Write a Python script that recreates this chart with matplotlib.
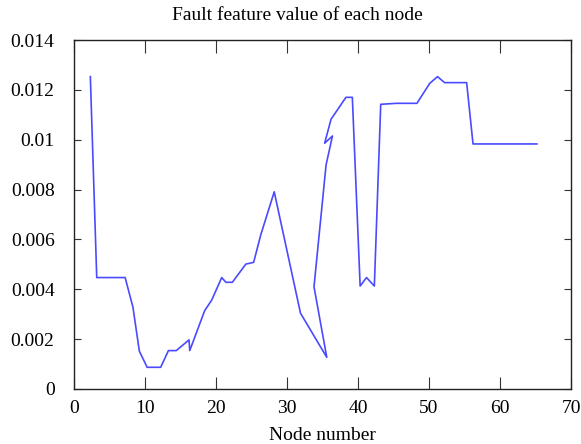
import matplotlib.pyplot as plt

plt.rcParams['font.family'] = ['Liberation Serif', 'DejaVu Serif']

# node number vs fault feature value
node = [2.3, 3.2, 7.2, 8.3, 9.2, 10.3, 12.2, 13.3, 14.4, 16.2, 16.3, 18.4, 19.4,
        20.8, 21.4, 22.3, 24.2, 25.3, 26.3, 28.2, 31.9, 35.6, 33.8, 35.5, 36.4,
        35.3, 36.2, 38.3, 39.2, 40.3, 41.2, 42.3, 43.2, 45.4, 48.3, 50.1, 51.2,
        52.2, 55.3, 56.2, 65.2]
feature = [0.01253, 0.00447, 0.00447, 0.00328, 0.00152, 0.00087, 0.00087,
           0.00154, 0.00154, 0.00197, 0.00154, 0.00314, 0.00357, 0.00447,
           0.00428, 0.00428, 0.00501, 0.00508, 0.00618, 0.00791, 0.00304,
           0.00127, 0.00410, 0.00899, 0.01015, 0.00986, 0.01082, 0.01170,
           0.01170, 0.00413, 0.00447, 0.00413, 0.01142, 0.01146, 0.01146,
           0.01226, 0.01253, 0.01229, 0.01229, 0.00983, 0.00983]

yticks = [0, 0.002, 0.004, 0.006, 0.008, 0.01, 0.012, 0.014]
ytick_labels = ['0', '0.002', '0.004', '0.006', '0.008', '0.01', '0.012', '0.014']
xticks = [0, 10, 20, 30, 40, 50, 60, 70]

fig = plt.figure(figsize=(5.81, 4.44), dpi=100)
ax = fig.add_axes([0.1274, 0.1239, 0.8554, 0.786])

ax.plot(node, feature, color='#4a4aff', lw=1.2)

ax.set_xlim(0, 70)
ax.set_ylim(0, 0.014)
ax.set_xticks(xticks)
ax.set_yticks(yticks)
ax.set_yticklabels(ytick_labels)

ax.tick_params(axis='both', direction='in', top=True, right=True,
               labelsize=14, colors='#333333', labelcolor='black')
ax.tick_params(axis='x', length=9, pad=8)
ax.tick_params(axis='y', length=5, pad=14)
for s in ax.spines.values():
    s.set_color('#222222')
    s.set_linewidth(1.0)

ax.set_xlabel('Node number', fontsize=14, labelpad=7)
fig.text(297 / 581, 1 - 16 / 444, 'Fault feature value of each node',
         fontsize=14, ha='center', va='center')

fig.savefig('out.png', dpi=100)
